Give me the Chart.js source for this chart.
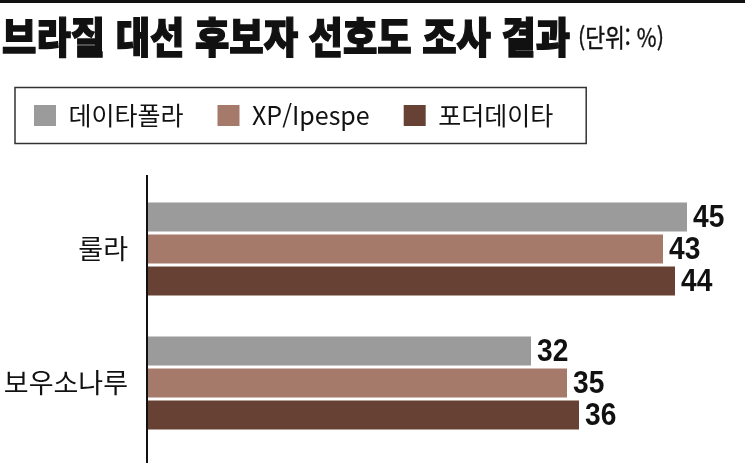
<!DOCTYPE html>
<html lang="ko">
<head>
<meta charset="utf-8">
<title>브라질 대선 후보자 선호도 조사 결과</title>
<script src="https://cdn.jsdelivr.net/npm/chart.js@4.4.1/dist/chart.umd.min.js"></script>
<style>
  html, body { margin: 0; padding: 0; background: #fff; }
  #wrap { position: relative; width: 745px; height: 463px; overflow: hidden; }
  #rule { position: absolute; left: 0; top: 0; width: 745px; height: 3px; background: #111; }
  #title { position: absolute; left: 2px; top: 12px; font: 900 42px/46px "Noto Sans CJK KR", sans-serif; color: #111; -webkit-text-stroke: 1.3px #111; transform: scaleX(0.89); transform-origin: 0 0; white-space: nowrap; }
  #unit { position: absolute; left: 578px; top: 22px; font: 400 25px/29px "Noto Sans CJK KR", sans-serif; color: #111; -webkit-text-stroke: 0.4px #111; transform: scaleX(0.86); transform-origin: 0 0; white-space: nowrap; }
  canvas { position: absolute; left: 0; top: 0; }
</style>
</head>
<body>
<div id="wrap">
  <canvas id="chart" width="745" height="463"></canvas>
  <div id="rule"></div>
  <div id="title">브라질 대선 후보자 선호도 조사 결과</div>
  <div id="unit">(단위: %)</div>
</div>
<script>
// 후보별 지지율 (%)
const categories = ["룰라", "보우소나루"];
const seriesNames = ["데이타폴라", "XP/Ipespe", "포더데이타"];
const datafolha = [45, 32];
const xpIpespe = [43, 35];
const poderData = [44, 36];

const KR = '"Noto Sans CJK KR", "Noto Sans", sans-serif';

// 범례 테두리
const legendFrame = {
  id: "legendFrame",
  afterDraw(chart) {
    const boxes = chart.legend && chart.legend.legendHitBoxes;
    if (!boxes || !boxes.length) return;
    const first = boxes[0], last = boxes[boxes.length - 1];
    const mid = first.top + first.height / 2;
    const left = first.left - 19;
    const right = last.left + last.width + 33;
    const ctx = chart.ctx;
    ctx.save();
    ctx.strokeStyle = "#333";
    ctx.lineWidth = 1.5;
    ctx.strokeRect(left, mid - 28, right - left, 56);
    ctx.restore();
  }
};

// 세로 축선
const axisLine = {
  id: "axisLine",
  afterDatasetsDraw(chart) {
    const { ctx, chartArea } = chart;
    ctx.save();
    ctx.strokeStyle = "#111";
    ctx.lineWidth = 2;
    ctx.beginPath();
    ctx.moveTo(chartArea.left, chartArea.top - 7);
    ctx.lineTo(chartArea.left, chart.height);
    ctx.stroke();
    ctx.restore();
  }
};

// 막대 끝 수치 (좁은 글꼴 느낌으로 가로 축소)
const valueLabels = {
  id: "valueLabels",
  afterDatasetsDraw(chart) {
    const ctx = chart.ctx;
    chart.data.datasets.forEach((ds, i) => {
      chart.getDatasetMeta(i).data.forEach((bar, j) => {
        ctx.save();
        ctx.translate(bar.x + 6, bar.y + 1);
        ctx.scale(0.88, 1);
        ctx.fillStyle = "#111";
        ctx.font = 'bold 32px "Liberation Sans", Arial, sans-serif';
        ctx.textAlign = "left";
        ctx.textBaseline = "middle";
        ctx.fillText(String(ds.data[j]), 0, 0);
        ctx.restore();
      });
    });
  }
};

new Chart(document.getElementById("chart").getContext("2d"), {
  type: "bar",
  data: {
    labels: categories,
    datasets: [
      { label: seriesNames[0], data: datafolha, backgroundColor: "#9b9b9b" },
      { label: seriesNames[1], data: xpIpespe, backgroundColor: "#a57a6a" },
      { label: seriesNames[2], data: poderData, backgroundColor: "#674234" }
    ]
  },
  options: {
    indexAxis: "y",
    responsive: false,
    animation: false,
    categoryPercentage: 0.716,
    barPercentage: 0.906,
    layout: { padding: { top: 69, left: 0, right: 58, bottom: 13 } },
    scales: {
      x: {
        position: "top",
        min: 0,
        max: 45,
        grid: { display: false },
        border: { display: false },
        ticks: { display: false },
        afterFit: (s) => { s.height = 44; }
      },
      y: {
        grid: { display: false },
        border: { display: false },
        ticks: { color: "#111", padding: 11, font: { family: KR, size: 27, lineHeight: 1 } },
        afterFit: (s) => {
          s.width = 147;
          s.paddingTop = 0;
          s.paddingBottom = 0;
        }
      }
    },
    plugins: {
      legend: {
        align: "start",
        labels: {
          boxWidth: 22,
          boxHeight: 21,
          padding: 34,
          color: "#111",
          font: { family: KR, size: 25 }
        }
      },
      tooltip: { enabled: false }
    }
  },
  plugins: [legendFrame, axisLine, valueLabels]
});
</script>
</body>
</html>
